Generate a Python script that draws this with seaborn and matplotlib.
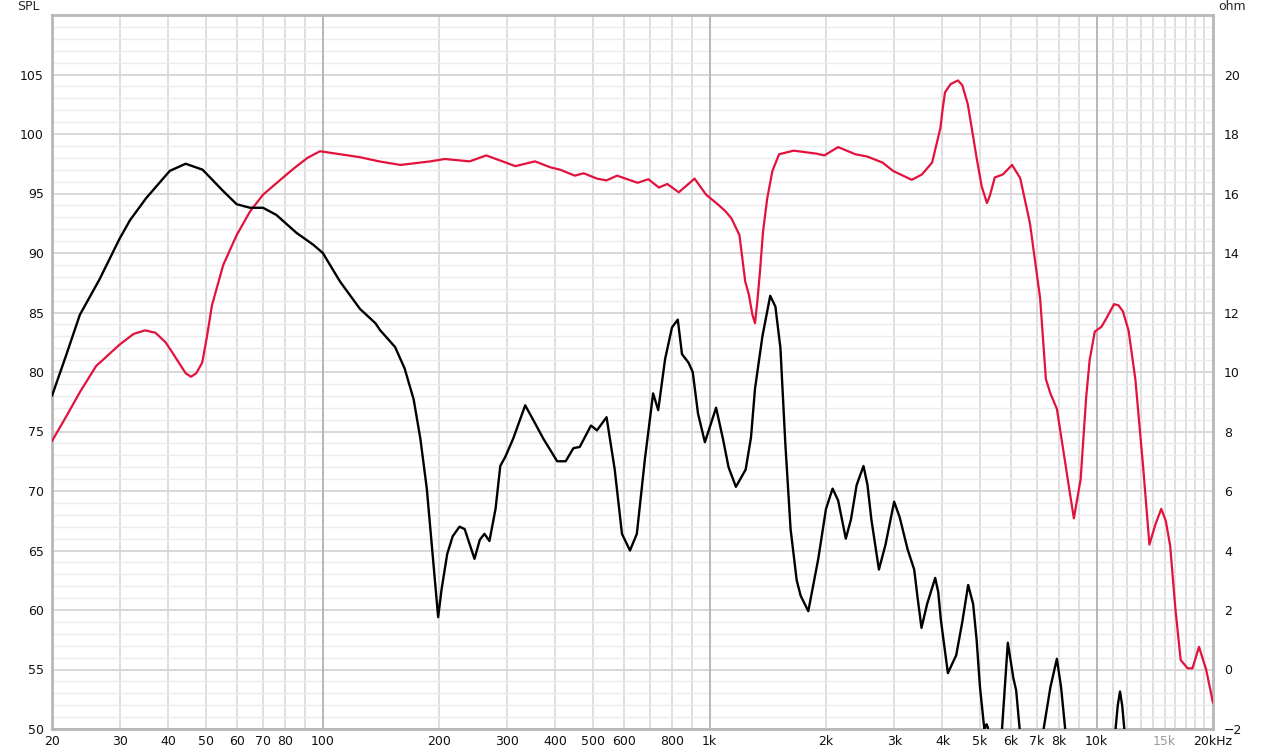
import matplotlib
matplotlib.use("Agg")
import matplotlib.pyplot as plt
import numpy as np
import pandas as pd
import seaborn as sns

# SPL response (dB)
spl_freq = [20, 21.8, 23.6, 26, 29.9, 32.5, 34.8, 37, 39.3, 41, 42.7, 44.3, 45.7, 47.2,
            48.9, 50.3, 51.8, 55.4, 60, 65, 70.2, 78.8, 85, 91.5, 98.5, 111, 125, 140,
            159, 190, 207, 240, 265, 315, 354, 388, 411, 449, 473, 512, 542, 577, 652,
            695, 740, 778, 833, 915, 980, 1050, 1100, 1140, 1195, 1237, 1264, 1291,
            1311, 1330, 1350, 1375, 1410, 1454, 1513, 1650, 1890, 1980, 2150, 2380,
            2560, 2800, 2980, 3330, 3540, 3760, 3950, 4000, 4060, 4200, 4385, 4500,
            4650, 4760, 4900, 5050, 5210, 5300, 5460, 5730, 6050, 6350, 6730, 7150,
            7400, 7600, 7900, 8200, 8500, 8740, 9100, 9400, 9600, 9900, 10300, 10600,
            11100, 11400, 11700, 12100, 12600, 13200, 13700, 14200, 14700, 15100,
            15500, 16000, 16500, 17200, 17700, 18400, 19200, 20000]
spl_db = [74.2, 76.3, 78.3, 80.5, 82.3, 83.2, 83.5, 83.3, 82.5, 81.6, 80.7, 79.9, 79.6,
          79.9, 80.8, 83.0, 85.6, 89.0, 91.5, 93.5, 94.9, 96.3, 97.2, 98.0, 98.55,
          98.3, 98.05, 97.7, 97.4, 97.7, 97.9, 97.7, 98.2, 97.3, 97.7, 97.2, 97.0,
          96.5, 96.7, 96.25, 96.1, 96.5, 95.9, 96.2, 95.5, 95.8, 95.1, 96.25, 94.9,
          94.1, 93.5, 92.9, 91.5, 87.6, 86.5, 84.8, 84.1, 86.0, 88.4, 91.8, 94.6, 96.9,
          98.3, 98.6, 98.35, 98.2, 98.9, 98.3, 98.1, 97.6, 96.9, 96.15, 96.6, 97.6,
          100.5, 102.0, 103.5, 104.2, 104.5, 104.1, 102.5, 100.5, 98.0, 95.6, 94.2,
          94.8, 96.35, 96.6, 97.4, 96.3, 92.5, 86.2, 79.4, 78.2, 76.9, 73.5, 70.2,
          67.7, 71.0, 77.8, 81.0, 83.4, 83.8, 84.5, 85.7, 85.6, 85.1, 83.5, 79.4, 72.0,
          65.5, 67.2, 68.5, 67.5, 65.4, 60.0, 55.8, 55.1, 55.1, 56.9, 55.0, 52.2]

# impedance (ohm)
imp_freq = [20, 21.7, 23.6, 26.5, 29.9, 31.8, 35, 40.3, 44.3, 49, 55.4, 60, 65, 70.2,
            76, 85.6, 94.6, 100.2, 111, 125, 137, 141, 154, 163, 172, 179, 186, 193,
            199, 203, 210, 217, 226, 233, 247, 255, 262, 270, 280, 288, 297, 311, 334,
            350, 372, 404, 425, 445, 462, 494, 512, 542, 569, 594, 623, 649, 681, 715,
            737, 768, 800, 828, 849, 882, 905, 934, 973, 1040, 1083, 1120, 1170, 1240,
            1280, 1311, 1370, 1435, 1480, 1525, 1570, 1620, 1680, 1720, 1800, 1910,
            2000, 2080, 2150, 2250, 2320, 2400, 2500, 2560, 2620, 2740, 2850, 3000,
            3100, 3250, 3380, 3450, 3530, 3650, 3830, 3900, 3960, 4130, 4340, 4500,
            4660, 4800, 4900, 5000, 5130, 5170, 5200, 5240, 5300, 5500, 5700, 5900,
            6100, 6200, 6330, 6500, 7000, 7300, 7600, 7900, 8100, 8300, 8600, 10000,
            11200, 11350, 11500, 11650, 11800, 12200, 20000]
imp_ohm = [9.2, 10.52, 11.92, 13.1, 14.48, 15.1, 15.84, 16.76, 17.0, 16.8, 16.08,
           15.64, 15.52, 15.52, 15.28, 14.68, 14.28, 14.0, 13.04, 12.12, 11.64, 11.4,
           10.84, 10.12, 9.08, 7.76, 6.08, 3.72, 1.76, 2.68, 3.88, 4.48, 4.8, 4.72,
           3.72, 4.36, 4.56, 4.32, 5.4, 6.84, 7.16, 7.76, 8.88, 8.4, 7.76, 7.0, 7.0,
           7.44, 7.48, 8.2, 8.04, 8.48, 6.72, 4.56, 4.0, 4.56, 7.08, 9.28, 8.72, 10.44,
           11.5, 11.76, 10.6, 10.32, 10.0, 8.6, 7.64, 8.8, 7.76, 6.8, 6.14, 6.72, 7.8,
           9.44, 11.2, 12.56, 12.2, 10.8, 7.6, 4.72, 3.0, 2.48, 1.96, 3.72, 5.4, 6.08,
           5.68, 4.4, 5.04, 6.2, 6.84, 6.2, 5.04, 3.36, 4.2, 5.64, 5.12, 4.04, 3.36,
           2.4, 1.4, 2.2, 3.08, 2.6, 1.68, -0.12, 0.48, 1.6, 2.84, 2.2, 1.0, -0.6,
           -2.0, -1.9, -1.84, -1.95, -2.6, -4.0, -2.0, 0.9, -0.3, -0.7, -2.0, -4.0,
           -4.0, -2.0, -0.6, 0.36, -0.6, -2.0, -5.0, -5.0, -2.0, -1.2, -0.74, -1.2,
           -2.0, -5.0, -5.0]

x_major = [20, 30, 40, 50, 60, 70, 80, 100, 200, 300, 400, 500, 600, 800, 1000,
           2000, 3000, 4000, 5000, 6000, 7000, 8000, 10000, 15000, 20000]
x_labels = ["20", "30", "40", "50", "60", "70", "80", "100", "200", "300", "400",
            "500", "600", "800", "1k", "2k", "3k", "4k", "5k", "6k", "7k", "8k", "10k",
            "15k", "20kHz"]
x_minor = [90, 700, 900, 9000, 11000, 12000, 13000, 14000, 16000, 17000, 18000, 19000]
decades = [100, 1000, 10000]

spl_df = pd.DataFrame({"freq": spl_freq, "spl": spl_db})
imp_df = pd.DataFrame({"freq": imp_freq, "ohm": imp_ohm})

sns.set_style("white")
plt.rcParams["font.family"] = ["DejaVu Sans"]

fig = plt.figure(figsize=(12.8, 7.53), dpi=100)
ax = fig.add_axes([52 / 1280, 1 - 729 / 753, (1213 - 52) / 1280, (729 - 15) / 753])

ax.set_xscale("log")
ax.set_xlim(20, 20000)
ax.set_ylim(50, 110)
ax.set_xticks(x_major)
ax.set_xticklabels(x_labels)
ax.set_xticks(x_minor, minor=True)
ax.set_yticks(np.arange(50, 106, 5))
ax.set_yticks(np.arange(50, 111, 1), minor=True)
ax.xaxis.set_minor_formatter(matplotlib.ticker.NullFormatter())

ax.grid(which="major", axis="y", color="#d6d6d6", lw=1.3)
ax.grid(which="minor", axis="y", color="#ebebeb", lw=1.0)
ax.grid(which="both", axis="x", color="#d9d9d9", lw=1.2)
for d in decades:
    ax.axvline(d, color="#b4b4b4", lw=1.3, zorder=0.6)
ax.set_axisbelow(True)

ax.tick_params(which="both", length=0, labelsize=9, colors="#111111")
ax.tick_params(axis="x", pad=4)
ax.tick_params(axis="y", pad=6)
for lab in ax.get_xticklabels():
    if lab.get_text() == "15k":
        lab.set_color("#9a9a9a")

for s in ax.spines.values():
    s.set_color("#b8b8b8")
    s.set_linewidth(2.0)

ax2 = ax.twinx()
ax2.set_ylim(-2, 22)
ax2.set_yticks(np.arange(-2, 21, 2))
ax2.tick_params(length=0, labelsize=9, colors="#111111", pad=8)
for s in ax2.spines.values():
    s.set_visible(False)

sns.lineplot(data=spl_df, x="freq", y="spl", ax=ax, color="#e2123c", lw=1.6,
             estimator=None, sort=False, zorder=3)
sns.lineplot(data=imp_df, x="freq", y="ohm", ax=ax2, color="black", lw=1.7,
             estimator=None, sort=False)
ax.set_xlabel("")
ax.set_ylabel("")
ax2.set_ylabel("")
ax2.set_xlim(20, 20000)

fig.text(28 / 1280, 1 - 7 / 753, "SPL", ha="center", va="center", fontsize=9)
fig.text(1232 / 1280, 1 - 7 / 753, "ohm", ha="center", va="center", fontsize=9)

fig.savefig("out.png", dpi=100)
